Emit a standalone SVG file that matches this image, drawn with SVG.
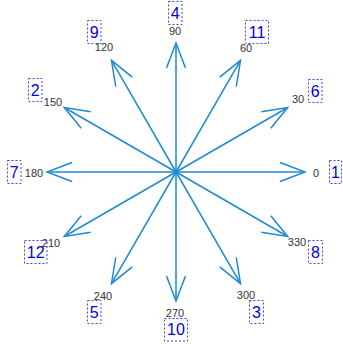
<svg xmlns="http://www.w3.org/2000/svg" width="343" height="344" viewBox="0 0 343 344">
<style>
.ang{font-family:"Liberation Sans",Arial,sans-serif;font-size:11px;fill:#333;text-anchor:middle}
.num{font-family:"Liberation Sans",Arial,sans-serif;font-size:16px;fill:#0000dd;text-anchor:middle}
.box{fill:none;stroke:#4040ff;stroke-width:1;stroke-dasharray:2,2}
.arr{stroke:#1e8bcf;stroke-width:1.5;fill:none;marker-end:url(#ah)}
</style>
<defs>
<marker id="ah" markerUnits="userSpaceOnUse" orient="auto" refX="0" refY="0" markerWidth="30" markerHeight="30" overflow="visible">
<path d="M-25,-9.5 L0,0 L-25,9.5" fill="none" stroke="#1e8bcf" stroke-width="1.5"/>
</marker>
</defs>
<rect width="343" height="344" fill="#fff"/>
<g id="connectors">
<line class="arr" x1="176" y1="172" x2="305" y2="172"/>
<line class="arr" x1="176" y1="172" x2="287.7" y2="107.5"/>
<line class="arr" x1="176" y1="172" x2="240.5" y2="60.3"/>
<line class="arr" x1="176" y1="172" x2="176" y2="43"/>
<line class="arr" x1="176" y1="172" x2="111.5" y2="60.3"/>
<line class="arr" x1="176" y1="172" x2="64.3" y2="107.5"/>
<line class="arr" x1="176" y1="172" x2="47" y2="172"/>
<line class="arr" x1="176" y1="172" x2="64.3" y2="236.5"/>
<line class="arr" x1="176" y1="172" x2="111.5" y2="283.7"/>
<line class="arr" x1="176" y1="172" x2="176" y2="301"/>
<line class="arr" x1="176" y1="172" x2="240.5" y2="283.7"/>
<line class="arr" x1="176" y1="172" x2="287.7" y2="236.5"/>
</g>
<g id="n0"><text class="ang" x="316" y="177.4">0</text><rect class="box" x="329.5" y="160.5" width="12" height="23"/><text class="num" x="335.5" y="177.8">1</text></g>
<g id="n30"><text class="ang" x="298" y="103.4">30</text><rect class="box" x="308.5" y="79.5" width="13.5" height="23"/><text class="num" x="315.2" y="96.8">6</text></g>
<g id="n60"><text class="ang" x="246" y="52">60</text><rect class="box" x="245.5" y="20.5" width="23" height="23"/><text class="num" x="257" y="37.8">11</text></g>
<g id="n90"><text class="ang" x="175" y="34.5">90</text><rect class="box" x="168.5" y="1.5" width="13.5" height="23"/><text class="num" x="175.2" y="18.6">4</text></g>
<g id="n120"><text class="ang" x="104" y="51">120</text><rect class="box" x="87.5" y="20.5" width="13.5" height="23"/><text class="num" x="94.2" y="37.5">9</text></g>
<g id="n150"><text class="ang" x="53" y="106">150</text><rect class="box" x="28.5" y="78.5" width="13.5" height="23"/><text class="num" x="35.2" y="95.8">2</text></g>
<g id="n180"><text class="ang" x="34" y="177.3">180</text><rect class="box" x="7.5" y="160.5" width="13.5" height="23"/><text class="num" x="14.2" y="177.8">7</text></g>
<g id="n210"><text class="ang" x="51" y="247">210</text><rect class="box" x="24.5" y="240.5" width="22.5" height="23"/><text class="num" x="35.7" y="257.8">12</text></g>
<g id="n240"><text class="ang" x="103" y="300">240</text><rect class="box" x="87.5" y="300.5" width="13.5" height="23"/><text class="num" x="94.2" y="317.8">5</text></g>
<g id="n270"><text class="ang" x="175" y="316.7">270</text><rect class="box" x="164.5" y="318.5" width="23" height="22.5"/><text class="num" x="176" y="335.3">10</text></g>
<g id="n300"><text class="ang" x="246" y="299">300</text><rect class="box" x="249.5" y="300.5" width="14" height="23"/><text class="num" x="256.5" y="317.8">3</text></g>
<g id="n330"><text class="ang" x="297" y="246">330</text><rect class="box" x="308.5" y="240.5" width="14" height="23"/><text class="num" x="315.5" y="257.8">8</text></g>
</svg>
